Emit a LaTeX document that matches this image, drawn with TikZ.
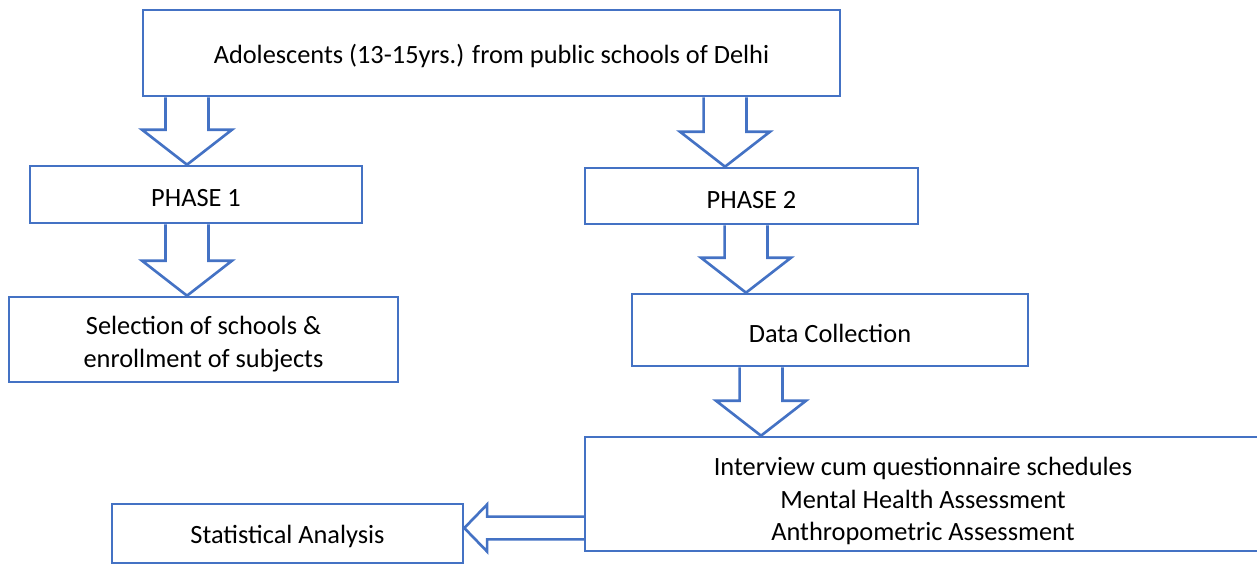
\documentclass[tikz,border=0pt]{standalone}
\usepackage{fontspec}
\setmainfont{Carlito}
\usepackage{xcolor}
\usetikzlibrary{calc,positioning}
\definecolor{boxblue}{HTML}{4472C4}

\newcommand{\blockdown}[3]{% x position, from node, to node
  \draw[blockline] let \p1=(#2.south), \p2=(#3.north), \p3=(#1,0) in
    (\x3-12.2pt,\y1) -- (\x3-12.2pt,\y2+19.9pt) -- (\x3-25.6pt,\y2+19.9pt) -- (\x3,\y2)
    -- (\x3+25.6pt,\y2+19.9pt) -- (\x3+12.2pt,\y2+19.9pt) -- (\x3+12.2pt,\y1);}
\newcommand{\blockleft}[3]{% y position, from node, to node
  \draw[blockline] let \p1=(#2.west), \p2=(#3.east), \p3=(0,#1) in
    (\x1,\y3+6.5pt) -- (\x2+13pt,\y3+6.5pt) -- (\x2+13pt,\y3+13.4pt) -- (\x2,\y3)
    -- (\x2+13pt,\y3-13.4pt) -- (\x2+13pt,\y3-6.5pt) -- (\x1,\y3-6.5pt);}
\newcommand{\lift}[1]{\rule{0pt}{#1}}

\begin{document}
\begin{tikzpicture}[x=0.02cm,y=-0.02cm,
	box/.style={draw=boxblue,line width=1.5pt,align=center,inner sep=0pt,font=\fontsize{15}{18.5}\selectfont},
	blockline/.style={draw=boxblue,line width=1.5pt}]
		\useasboundingbox (0,0) rectangle (1257,565);
		\node[box,minimum width=13.94cm,minimum height=1.72cm] (adol) at (491.5,53) {\lift{13.8pt}Adolescents (13-15yrs.) from public schools of Delhi};
		\node[box,minimum width=6.64cm,minimum height=1.14cm] (phase1) at (196,194.5) {\lift{13.8pt}PHASE 1};
		\node[box,minimum width=7.78cm,minimum height=1.70cm] (select) at (203.5,339.5) {\lift{15.5pt}Selection of schools \&\\enrollment of subjects};
		\node[box,minimum width=6.66cm,minimum height=1.12cm] (phase2) at (751.5,196) {\lift{13.8pt}PHASE 2};
		\node[box,minimum width=7.92cm,minimum height=1.44cm] (datacol) at (830,330) {\lift{13.8pt}Data Collection};
		\node[box,minimum width=13.52cm,minimum height=2.28cm] (interview) at (923,494) {\lift{18.5pt}Interview cum questionnaire schedules\\Mental Health Assessment\\Anthropometric Assessment};
		\node[box,minimum width=7.02cm,minimum height=1.18cm] (stats) at (287.5,533.5) {\lift{13.8pt}Statistical Analysis};
	
		\blockdown{187}{adol}{phase1}
		\blockdown{187}{phase1}{select}
		\blockdown{725}{adol}{phase2}
		\blockdown{746}{phase2}{datacol}
		\blockdown{761}{datacol}{interview}
		\blockleft{528}{interview}{stats}
\end{tikzpicture}
\end{document}
